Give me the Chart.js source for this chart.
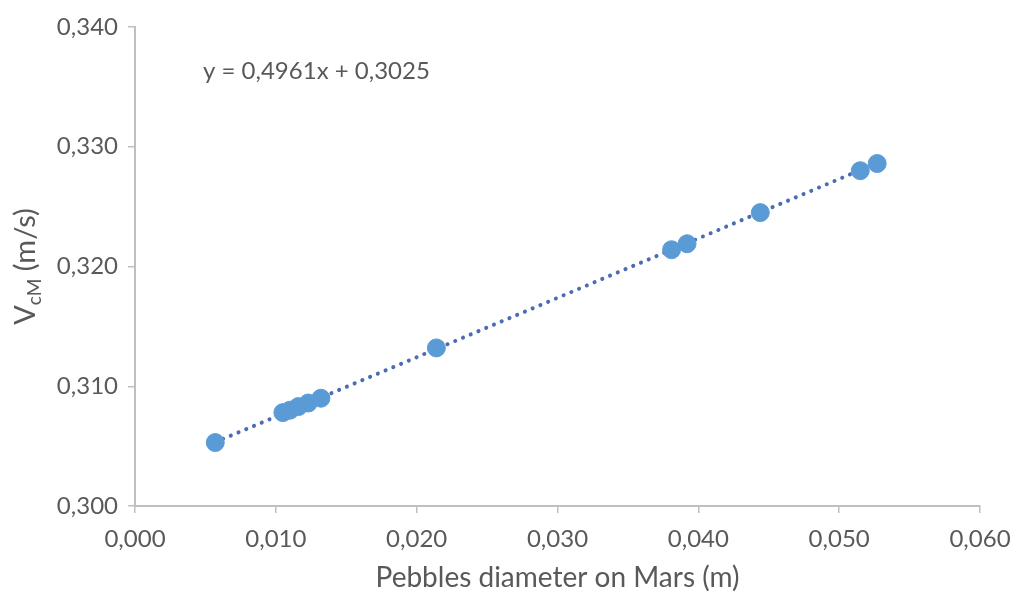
<!DOCTYPE html>
<html>
<head>
<meta charset="utf-8">
<script src="https://cdn.jsdelivr.net/npm/chart.js@4"></script>
<style>
  html, body { margin: 0; padding: 0; background: #fff; }
  #wrap { width: 1016px; height: 603px; }
</style>
</head>
<body>
<div id="wrap"><canvas id="chart" width="1016" height="603"></canvas></div>
<script>
// pebble diameters on Mars (m) and velocities (m/s)
const diameters = [0.0057, 0.0105, 0.0110, 0.0116, 0.0123, 0.0132, 0.0214, 0.0381, 0.0392, 0.0444, 0.0515, 0.0527];
const velocities = [0.3053, 0.3078, 0.3080, 0.3083, 0.3086, 0.3090, 0.3132, 0.3214, 0.3219, 0.3245, 0.3280, 0.3286];

const slope = 0.4961;
const intercept = 0.3025;
const equationText = "y = 0,4961x + 0,3025";

const xTicks = [0, 0.01, 0.02, 0.03, 0.04, 0.05, 0.06];
const yTicks = [0.30, 0.31, 0.32, 0.33, 0.34];

const points = diameters.map((d, i) => ({ x: d, y: velocities[i] }));
const xMin = Math.min(...diameters);
const xMax = Math.max(...diameters);
const trend = [
    { x: xMin, y: slope * xMin + intercept },
    { x: xMax, y: slope * xMax + intercept }
];

const grey = "#595959";
const axisGrey = "#bfbfbf";
const fontFamily = "Lato, 'Open Sans', sans-serif";

function fmt(v) {
    return v.toFixed(3).replace(".", ",");
}

// y axis title with subscript, plus the trendline equation
const labelsPlugin = {
    id: "labels",
    afterDraw(chart) {
        const ctx = chart.ctx;
        const area = chart.chartArea;
        ctx.save();
        ctx.fillStyle = grey;

        ctx.font = "24px " + fontFamily;
        ctx.textBaseline = "alphabetic";
        ctx.textAlign = "left";
        ctx.fillText(equationText, area.left + 68, area.top + 52);

        const cx = 35;
        const cy = (area.top + area.bottom) / 2;
        ctx.translate(cx, cy);
        ctx.rotate(-Math.PI / 2);
        const big = "29px " + fontFamily;
        const small = "19px " + fontFamily;
        ctx.font = big;
        const w1 = ctx.measureText("V").width;
        ctx.font = small;
        const w2 = ctx.measureText("cM").width;
        ctx.font = big;
        const w3 = ctx.measureText(" (m/s)").width;
        let x = -(w1 + w2 + w3) / 2;
        ctx.fillText("V", x, 0);
        x += w1;
        ctx.font = small;
        ctx.fillText("cM", x, 6);
        x += w2;
        ctx.font = big;
        ctx.fillText(" (m/s)", x, 0);
        ctx.restore();
    }
};

new Chart(document.getElementById("chart").getContext("2d"), {
    type: "scatter",
    data: {
        datasets: [
            {
                label: "Trend",
                type: "line",
                data: trend,
                borderColor: "#4a6cb3",
                borderWidth: 4,
                borderDash: [0.1, 8.3],
                borderCapStyle: "round",
                pointRadius: 0,
                fill: false,
                order: 2
            },
            {
                label: "Vcm",
                data: points,
                backgroundColor: "#5b9bd5",
                borderColor: "#5b9bd5",
                pointRadius: 9,
                order: 1
            }
        ]
    },
    options: {
        responsive: false,
        animation: false,
        layout: { padding: { left: 10, right: 0, top: 27, bottom: 4 } },
        plugins: {
            legend: { display: false },
            tooltip: { enabled: false }
        },
        scales: {
            x: {
                type: "linear",
                min: 0,
                max: 0.06,
                afterBuildTicks: (axis) => { axis.ticks = xTicks.map(v => ({ value: v })); },
                afterFit: (axis) => { axis.height = 93; axis.paddingRight = 36; },
                ticks: {
                    color: grey,
                    font: { family: fontFamily, size: 24 },
                    padding: 12,
                    callback: (v) => fmt(v)
                },
                grid: { drawOnChartArea: false, color: axisGrey, tickLength: 7, lineWidth: 1.5 },
                border: { color: axisGrey, width: 2 },
                title: {
                    display: true,
                    text: "Pebbles diameter on Mars (m)",
                    color: grey,
                    font: { family: fontFamily, size: 28 },
                    padding: { top: 4, bottom: 4 }
                }
            },
            y: {
                type: "linear",
                min: 0.30,
                max: 0.34,
                afterBuildTicks: (axis) => { axis.ticks = yTicks.map(v => ({ value: v })); },
                afterFit: (axis) => { axis.width = 125; },
                ticks: {
                    color: grey,
                    font: { family: fontFamily, size: 24 },
                    padding: 10,
                    callback: (v) => fmt(v)
                },
                grid: { drawOnChartArea: false, color: axisGrey, tickLength: 7, lineWidth: 1.5 },
                border: { color: axisGrey, width: 2 }
            }
        }
    },
    plugins: [labelsPlugin]
});
</script>
</body>
</html>
